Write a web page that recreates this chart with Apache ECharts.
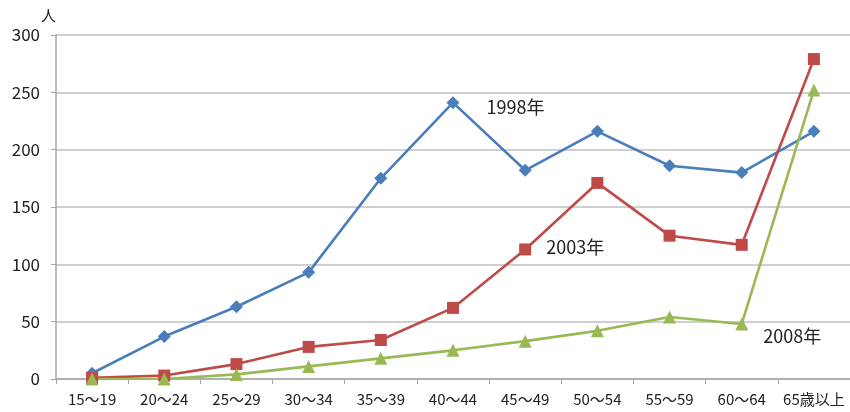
<!DOCTYPE html>
<html><head><meta charset="utf-8">
<script src="https://cdn.jsdelivr.net/npm/echarts@6/dist/echarts.min.js"></script>
<style>html,body{margin:0;padding:0;background:#fff}#c{width:850px;height:412px}</style>
</head><body><div id="c"></div>
<script>
const categories = ['15～19','20～24','25～29','30～34','35～39','40～44','45～49','50～54','55～59','60～64','65歳以上'];
const s1998 = [5, 37, 63, 93, 175, 241, 182, 216, 186, 180, 216];
const s2003 = [1, 3, 13, 28, 34, 62, 113, 171, 125, 117, 279];
const s2008 = [0, 0, 4, 11, 18, 25, 33, 42, 54, 48, 252];
const yTicks = [0, 50, 100, 150, 200, 250, 300];
const seriesNames = ['1998年', '2003年', '2008年'];
const labelIdx = [5, 6, 9];

const font = '"Noto Sans CJK JP", "Noto Sans", sans-serif';
const chart = echarts.init(document.getElementById('c'));
function mk(name, data, color, symbol, size, li, offset) {
  return {
    name, type: 'line', data: data.map((v, i) => i === li ? {
      value: v,
      label: { show: true, formatter: name, position: 'right', offset, fontSize: 18, color: '#222', fontFamily: font }
    } : v),
    symbol, symbolSize: size, lineStyle: { color, width: 2.6 }, itemStyle: { color }, z: 3
  };
}
chart.setOption({
  animation: false,
  grid: { left: 56, right: 0, top: 35, bottom: 33, containLabel: false },
  xAxis: {
    type: 'category', data: categories, boundaryGap: true,
    axisLine: { lineStyle: { color: '#a6a6a6', width: 1.5 } },
    axisTick: { show: true, length: 5, lineStyle: { color: '#a6a6a6' } },
    axisLabel: { color: '#222', fontSize: 15, fontFamily: font, margin: 13, interval: 0 }
  },
  yAxis: {
    type: 'value', min: yTicks[0], max: yTicks[yTicks.length - 1], interval: 50,
    name: '人', nameLocation: 'end', nameGap: 12,
    nameTextStyle: { color: '#222', fontSize: 15, fontFamily: font, align: 'right', padding: [0, 0, 0, 0] },
    axisLine: { show: true, lineStyle: { color: '#a6a6a6', width: 1.5 } },
    axisTick: { show: true, length: 5, lineStyle: { color: '#a6a6a6' } },
    axisLabel: { color: '#222', fontSize: 17, fontFamily: font, margin: 16 },
    splitLine: { lineStyle: { color: '#bfbfbf', width: 1.5 } }
  },
  series: [
    mk(seriesNames[0], s1998, '#4a7ebb', 'diamond', 13, labelIdx[0], [22, 5]),
    mk(seriesNames[1], s2003, '#be4b48', 'rect', 12, labelIdx[1], [10, -2]),
    mk(seriesNames[2], s2008, '#98b954', 'triangle', 13, labelIdx[2], [10, 12])
  ]
});
</script></body></html>
